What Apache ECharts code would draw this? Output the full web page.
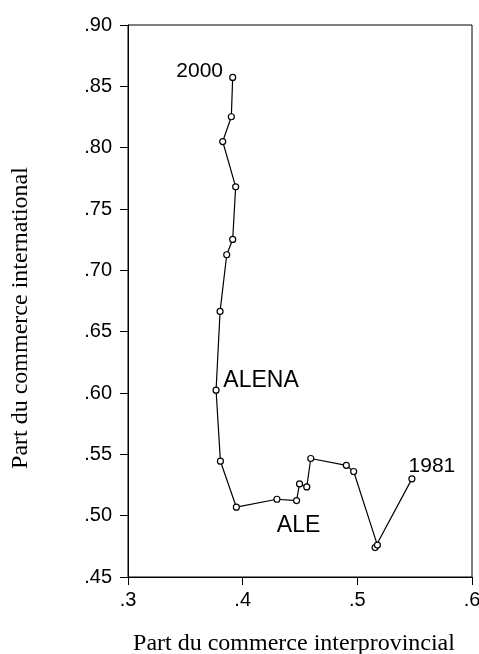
<!DOCTYPE html>
<html lang="fr">
<head>
  <meta charset="UTF-8">
  <title>Part du commerce</title>
  <style type="text/css">
    * { margin: 0; padding: 0; }
    html, body { width: 100%; height: 100%; overflow: hidden; background: #fff; }
    #main { width: 479px; height: 654px; }
  </style>
  <script type="text/javascript" src="https://cdn.jsdelivr.net/npm/echarts@6/dist/echarts.min.js"></script>
</head>
<body>
<div id="main"></div>
<script type="text/javascript">
  // années 1981 -> 2000
  var years = [1981, 1982, 1983, 1984, 1985, 1986, 1987, 1988, 1989, 1990,
               1991, 1992, 1993, 1994, 1995, 1996, 1997, 1998, 1999, 2000];
  // part du commerce interprovincial (x)
  var interProv = [0.5476, 0.5155, 0.5175, 0.4968, 0.4904, 0.4594, 0.4559, 0.4496, 0.4470, 0.4299,
                   0.3945, 0.3806, 0.3768, 0.3803, 0.3861, 0.3913, 0.3939, 0.3826, 0.3901, 0.3913];
  // part du commerce international (y)
  var internat = [0.530, 0.474, 0.476, 0.536, 0.541, 0.5466, 0.5234, 0.5259, 0.5123, 0.5134,
                  0.5069, 0.5444, 0.6023, 0.6665, 0.7127, 0.7252, 0.7681, 0.805, 0.8252, 0.8573];
  // annotations : index du point, texte
  var notes = [
    { idx: 0, text: '1981', offset: [20, -13], size: 21 },
    { idx: 8, text: 'ALE', offset: [2, 25], size: 23 },
    { idx: 12, text: 'ALENA', offset: [45, -10], size: 23 },
    { idx: 19, text: '2000', offset: [-33, -6], size: 21 }
  ];

  var data = [];
  for (var i = 0; i < years.length; i++) {
    data.push({ value: [interProv[i], internat[i]], name: String(years[i]) });
  }
  for (var j = 0; j < notes.length; j++) {
    var n = notes[j];
    data[n.idx].label = {
      show: true,
      position: 'inside',
      offset: n.offset,
      formatter: n.text,
      color: '#000',
      fontFamily: 'Liberation Sans',
      fontSize: n.size,
      align: 'center',
      verticalAlign: 'middle'
    };
  }

  var myChart = echarts.init(document.getElementById('main'));
  var option = {
    animation: false,
    backgroundColor: '#fff',
    grid: {
      left: 128, right: 7, top: 25, bottom: 77,
      containLabel: false, outerBoundsMode: 'none',
      show: true, borderColor: '#000', borderWidth: 1
    },
    xAxis: {
      type: 'value',
      min: 0.3, max: 0.6, interval: 0.1,
      splitLine: { show: false },
      axisLine: { lineStyle: { color: '#000', width: 1 } },
      axisTick: { show: true, length: 8, lineStyle: { color: '#000' } },
      axisLabel: {
        color: '#000', fontFamily: 'Liberation Sans', fontSize: 20, margin: 13,
        formatter: function (v) { return v.toFixed(1).replace(/^0/, ''); }
      }
    },
    yAxis: {
      type: 'value',
      min: 0.45, max: 0.9, interval: 0.05,
      splitLine: { show: false },
      axisLine: { lineStyle: { color: '#000', width: 1 } },
      axisTick: { show: true, length: 8, lineStyle: { color: '#000' } },
      axisLabel: {
        color: '#000', fontFamily: 'Liberation Sans', fontSize: 20, margin: 16,
        formatter: function (v) { return v.toFixed(2).replace(/^0/, ''); }
      }
    },
    graphic: [
      {
        type: 'text', x: 294, y: 644,
        style: {
          text: 'Part du commerce interprovincial',
          fill: '#000', font: '24px "Liberation Serif"',
          align: 'center', verticalAlign: 'middle'
        }
      },
      {
        type: 'text', x: 21, y: 318, rotation: Math.PI / 2,
        style: {
          text: 'Part du commerce international',
          fill: '#000', font: '24px "Liberation Serif"',
          align: 'center', verticalAlign: 'middle'
        }
      }
    ],
    series: [{
      type: 'line',
      data: data,
      symbol: 'circle',
      symbolSize: 6,
      showAllSymbol: true,
      lineStyle: { color: '#000', width: 1.2 },
      itemStyle: { color: '#fff', borderColor: '#000', borderWidth: 1.2 },
      label: { show: false }
    }]
  };
  myChart.setOption(option);
</script>
</body>
</html>
